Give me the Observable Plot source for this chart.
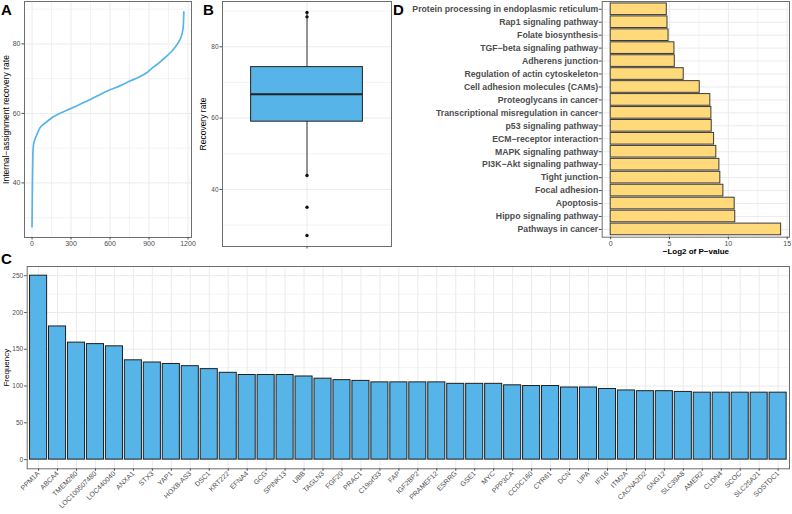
<!DOCTYPE html>
<html><head><meta charset="utf-8">
<script src="https://cdn.jsdelivr.net/npm/d3@7"></script>
<script src="https://cdn.jsdelivr.net/npm/@observablehq/plot@0.6"></script>
<style>
body{margin:0;background:#fff;font-family:"Liberation Sans",Arial,sans-serif;}
#wrap{position:relative;width:792px;height:514px;overflow:hidden;background:#fff;}
.panel{position:absolute;}
.tag{position:absolute;font-weight:bold;font-size:15px;line-height:1;font-family:"Liberation Sans",Arial,sans-serif;color:#000;}
</style></head><body>
<div id="wrap">
  <div class="panel" id="pa" style="left:0;top:0"></div>
  <div class="panel" id="pb" style="left:196px;top:0"></div>
  <div class="panel" id="pd" style="left:396px;top:0"></div>
  <div class="panel" id="pc" style="left:0;top:262px"></div>
  <div class="tag" style="left:1px;top:2px">A</div>
  <div class="tag" style="left:203px;top:2px">B</div>
  <div class="tag" style="left:393px;top:2px">D</div>
  <div class="tag" style="left:1px;top:251px">C</div>
</div>
<script>
// ---------- Panel A: sorted internal-assignment recovery rate ----------
const sampleIndexA = [0, 3, 6, 10, 20, 36, 62, 85, 113, 150, 202, 250, 292, 350, 421, 500, 600, 680, 754, 820, 882, 920, 959, 1000, 1049, 1085, 1113, 1135, 1152, 1160, 1165, 1168];
const recoveryRateA = [27.4, 40.0, 47.8, 50.5, 52.3, 53.8, 55.9, 56.8, 57.6, 58.7, 59.8, 60.6, 61.3, 62.3, 63.5, 65.0, 66.8, 68.0, 69.3, 70.4, 71.7, 72.9, 74.0, 75.3, 76.9, 78.3, 79.7, 81.0, 82.6, 84.0, 85.9, 89.2];
const xTicksA = [0, 300, 600, 900, 1200];
const yTicksA = [40, 60, 80];

// ---------- Panel B: boxplot of recovery rate ----------
const boxCategory = [""];
const boxQ1 = [59.0];
const boxMedian = [66.7];
const boxQ3 = [74.3];
const whiskerLow = [43.9];
const whiskerHigh = [89.6];
const pointsB = [89.6, 88.4, 43.9, 35.0, 27.1];
const yTicksB = [40, 60, 80];

// ---------- Panel C: gene frequency ----------
const genes = ["PPM1A","ABCA4","TMEM260","LOC100507480","LOC440040","ANXA1","STX3","YAP1","HOXB-AS3","DSC1","KRT222","EFNA4","GCG","SPINK13","UBB","TAGLN3","FGF20","PRAC1","C19orf33","FAP","IGF2BP2","PRAMEF12","ESRRG","GSE1","MYC","PPP3CA","CCDC160","CYR61","DCN","LIPA","IFI16","ITM2A","CACNA2D2","GNG12","SLC39A8","AMER2","CLDN4","SCOC","SLC25A21","SOSTDC1"];
const frequency = [250,181,159,157,154,135,132,130,127,123,118,115,115,115,113,110,108,107,105,105,105,105,103,103,103,101,100,100,98,98,96,94,93,93,92,91,91,91,91,91];
const yTicksC = [0, 50, 100, 150, 200, 250];

// ---------- Panel D: KEGG pathways ----------
const pathways = ["Protein processing in endoplasmic reticulum","Rap1 signaling pathway","Folate biosynthesis","TGF\u2212beta signaling pathway","Adherens junction","Regulation of actin cytoskeleton","Cell adhesion molecules (CAMs)","Proteoglycans in cancer","Transcriptional misregulation in cancer","p53 signaling pathway","ECM\u2212receptor interaction","MAPK signaling pathway","PI3K\u2212Akt signaling pathway","Tight junction","Focal adhesion","Apoptosis","Hippo signaling pathway","Pathways in cancer"];
const negLog2P = [4.77,4.83,4.92,5.42,5.45,6.21,7.57,8.47,8.56,8.59,8.79,8.98,9.24,9.32,9.58,10.54,10.59,14.49];
const xTicksD = [0, 5, 10, 15];

const FONT = "Liberation Sans, Arial, sans-serif";
const GRID = "#ebebeb";
const BORDER = "#6e6e6e";
const TXT = "#4d4d4d";
const baseStyle = {fontFamily: FONT, fontSize: "7px", color: TXT, background: "transparent", overflow: "visible"};
const plain = d => String(d);

// Panel A
const dataA = sampleIndexA.map((d, i) => ({i: d, v: recoveryRateA[i]}));
document.getElementById("pa").append(Plot.plot({
  width: 196, height: 250,
  marginLeft: 24, marginRight: 5, marginTop: 1, marginBottom: 13,
  style: baseStyle,
  x: {domain: [-58, 1227]},
  y: {domain: [24.3, 92.2]},
  marks: [
    Plot.gridX([150, 450, 750, 1050], {stroke: GRID, strokeOpacity: 1, strokeWidth: 0.6}),
    Plot.gridY([30, 50, 70, 90], {stroke: GRID, strokeOpacity: 1, strokeWidth: 0.6}),
    Plot.gridX(xTicksA, {stroke: GRID, strokeOpacity: 1, strokeWidth: 1}),
    Plot.gridY(yTicksA, {stroke: GRID, strokeOpacity: 1, strokeWidth: 1}),
    Plot.line(dataA, {x: "i", y: "v", stroke: "#56B4E9", strokeWidth: 1.7, curve: "monotone-x"}),
    Plot.frame({stroke: BORDER, strokeWidth: 1}),
    Plot.axisX(xTicksA, {tickSize: 2.5, tickPadding: 1.5, label: null, fontSize: 7, tickFormat: plain}),
    Plot.axisY(yTicksA, {tickSize: 2.5, tickPadding: 1.5, label: null, fontSize: 7, tickFormat: plain}),
    Plot.text(["Internal\u2212assignment recovery rate"], {frameAnchor: "left", textAnchor: "middle", rotate: -90, dx: -18, fontSize: 8.5, fill: "#000"})
  ]
}));

// Panel B
document.getElementById("pb").append(Plot.plot({
  width: 200, height: 252,
  marginLeft: 26, marginRight: 5, marginTop: 1, marginBottom: 6,
  style: baseStyle,
  x: {domain: boxCategory, paddingInner: 0, paddingOuter: 0.256, align: 0.5, round: false},
  y: {domain: [24.0, 92.7]},
  marks: [
    Plot.gridY([30, 50, 70, 90], {stroke: GRID, strokeOpacity: 1, strokeWidth: 0.6}),
    Plot.gridY(yTicksB, {stroke: GRID, strokeOpacity: 1, strokeWidth: 1}),
    Plot.gridX(boxCategory, {stroke: GRID, strokeOpacity: 1, strokeWidth: 1}),
    Plot.ruleX(boxCategory, {x: d => d, y1: () => whiskerLow[0], y2: () => whiskerHigh[0], stroke: "#333", strokeWidth: 1}),
    Plot.barY(boxCategory, {x: d => d, y1: () => boxQ1[0], y2: () => boxQ3[0], fill: "#56B4E9", stroke: "#222", strokeWidth: 1}),
    Plot.tickY(boxMedian, {x: () => boxCategory[0], y: d => d, stroke: "#222", strokeWidth: 2}),
    Plot.dot(pointsB, {x: () => boxCategory[0], y: d => d, r: 1.7, fill: "#111", stroke: "none"}),
    Plot.frame({stroke: BORDER, strokeWidth: 1}),
    Plot.axisX(boxCategory, {tickSize: 2.5, tickFormat: () => "", label: null}),
    Plot.axisY(yTicksB, {tickSize: 2.5, tickPadding: 1.5, label: null, fontSize: 6.5, tickFormat: plain}),
    Plot.text(["Recovery rate"], {frameAnchor: "left", textAnchor: "middle", rotate: -90, dx: -19, fontSize: 8.5, fill: "#000"})
  ]
}));

// Panel D
const dataD = pathways.map((p, i) => ({p, v: negLog2P[i]}));
document.getElementById("pd").append(Plot.plot({
  width: 396, height: 262,
  marginLeft: 205.7, marginRight: 3, marginTop: 1, marginBottom: 25.3,
  style: baseStyle,
  x: {domain: [-0.72, 15.2]},
  y: {domain: pathways, paddingInner: 0.1, paddingOuter: 0.15, round: false},
  marks: [
    Plot.gridX([2.5, 7.5, 12.5], {stroke: GRID, strokeOpacity: 1, strokeWidth: 0.6}),
    Plot.gridX(xTicksD, {stroke: GRID, strokeOpacity: 1, strokeWidth: 1}),
    Plot.gridY(pathways, {stroke: GRID, strokeOpacity: 1, strokeWidth: 1}),
    Plot.barX(dataD, {y: "p", x1: 0, x2: "v", fill: "#FFD97A", stroke: "#3a3a3a", strokeWidth: 1}),
    Plot.frame({stroke: BORDER, strokeWidth: 1}),
    Plot.axisX(xTicksD, {tickSize: 2.5, tickPadding: 1.5, label: null, fontSize: 7, tickFormat: plain}),
    Plot.axisY(pathways, {tickSize: 3, tickPadding: 1, label: null, fontSize: 8.7, fontWeight: "bold"}),
    Plot.text(["\u2212Log2 of P\u2212value"], {frameAnchor: "bottom", dy: 16.5, fontSize: 8, fontWeight: "bold", fill: "#000"})
  ]
}));

// Panel C
const dataC = genes.map((g, i) => ({g, v: frequency[i]}));
document.getElementById("pc").append(Plot.plot({
  width: 792, height: 252,
  marginLeft: 26.7, marginRight: 3, marginTop: 4, marginBottom: 45.7,
  style: baseStyle,
  x: {domain: genes, paddingInner: 0.1, paddingOuter: 0.15, round: false},
  y: {domain: [-12.5, 262.5]},
  marks: [
    Plot.gridY([25, 75, 125, 175, 225], {stroke: GRID, strokeOpacity: 1, strokeWidth: 0.6}),
    Plot.gridY(yTicksC, {stroke: GRID, strokeOpacity: 1, strokeWidth: 1}),
    Plot.gridX(genes, {stroke: GRID, strokeOpacity: 1, strokeWidth: 1}),
    Plot.barY(dataC, {x: "g", y1: 0, y2: "v", fill: "#56B4E9", stroke: "#1f1f1f", strokeWidth: 1}),
    Plot.frame({stroke: BORDER, strokeWidth: 1}),
    Plot.axisX(genes, {tickSize: 2.5, tickPadding: 1, tickRotate: -45, label: null, fontSize: 7}),
    Plot.axisY(yTicksC, {tickSize: 2.5, tickPadding: 1.5, label: null, fontSize: 6.5, tickFormat: plain}),
    Plot.text(["Frequency"], {frameAnchor: "left", textAnchor: "middle", rotate: -90, dx: -21, fontSize: 8, fill: "#000"})
  ]
}));
</script>
</body></html>
